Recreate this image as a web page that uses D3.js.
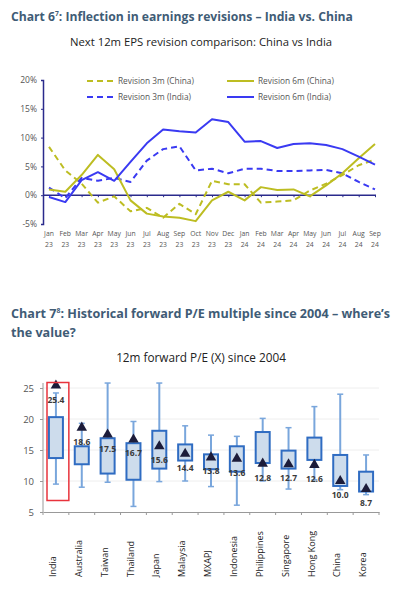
<!DOCTYPE html>
<html lang="en">
<head>
<meta charset="utf-8">
<title>Earnings revisions and forward P/E</title>
<script src="https://cdn.jsdelivr.net/npm/d3@7"></script>
<style>
  body { margin: 0; background: #fff; }
  svg text { font-family: "Open Sans", sans-serif; }
</style>
</head>
<body>
<script>
// chart 6 data: next 12m EPS revisions (%)
var months = ["Jan","Feb","Mar","Apr","May","Jun","Jul","Aug","Sep","Oct","Nov","Dec",
              "Jan","Feb","Mar","Apr","May","Jun","Jul","Aug","Sep"];
var years  = ["23","23","23","23","23","23","23","23","23","23","23","23",
              "24","24","24","24","24","24","24","24","24"];
var china3m = [8.4, 4.3, 2.0, -1.3, -0.2, -2.8, -2.2, -3.9, -1.5, -3.3, 2.5, 1.9, 1.9, -1.3, -1.1, -0.9, 0.8, 2.0, 3.5, 5.2, 6.2];
var india3m = [1.3, -0.5, 3.0, 2.5, 3.0, 2.3, 6.0, 8.0, 8.5, 4.3, 4.6, 3.8, 4.6, 4.6, 4.2, 4.2, 4.3, 4.4, 3.8, 2.3, 1.0];
var china6m = [1.0, 0.6, 3.5, 7.0, 4.5, -0.9, -3.2, -3.7, -3.9, -4.5, -0.9, 0.6, -0.9, 1.4, 0.9, 1.0, -0.2, 1.7, 3.8, 6.4, 8.9];
var india6m = [-0.3, -1.2, 2.6, 4.0, 2.5, 5.8, 9.0, 11.4, 11.1, 10.9, 13.2, 12.7, 9.3, 9.4, 8.2, 8.9, 9.0, 8.7, 8.0, 6.7, 5.3];
var revTicks = [-5, 0, 5, 10, 15, 20];

// chart 7 data: 12m forward P/E since 2004
var markets = ["India","Australia","Taiwan","Thailand","Japan","Malaysia","MXAPJ","Indonesia",
               "Philippines","Singapore","Hong Kong","China","Korea"];
var peMax   = [24.2, 19.3, 25.8, 19.6, 25.8, 18.9, 17.4, 17.2, 20.1, 18.6, 22.0, 24.0, 14.2];
var peQ3    = [20.3, 15.6, 16.9, 16.1, 18.1, 15.9, 14.3, 15.6, 17.9, 14.9, 17.0, 14.2, 11.5];
var peQ1    = [13.7, 12.7, 11.2, 10.2, 12.0, 13.3, 11.9, 11.5, 12.9, 12.0, 13.4, 9.2, 8.3];
var peMin   = [9.5, 9.0, 9.8, 5.9, 9.9, 10.0, 9.1, 6.1, 10.0, 8.7, 10.2, 8.6, 7.8];
var peNow   = [25.4, 18.6, 17.5, 16.7, 15.6, 14.4, 13.8, 13.6, 12.8, 12.7, 12.6, 10.0, 8.7];
var peTicks = [5, 10, 15, 20, 25];

var W = 399, H = 606;
var svg = d3.select("body").append("svg").attr("width", W).attr("height", H);

// squeeze/stretch font size so text spans a target width
function fitText(sel, target) {
  var fs = parseFloat(sel.attr("font-size"));
  var len = sel.node().getComputedTextLength();
  sel.attr("font-size", (fs * target / len).toFixed(2));
}

// ---------- titles ----------
var titleColor = "#3f5c76";
var t1 = svg.append("text").attr("x", 11).attr("y", 21).attr("font-size", 14)
  .attr("font-weight", "bold").attr("fill", titleColor);
t1.append("tspan").text("Chart 6");
t1.append("tspan").text("7").attr("font-size", "0.55em").attr("dy", -5);
t1.append("tspan").text(": Inflection in earnings revisions \u2013 India vs. China").attr("dy", 5);
fitText(t1, 342);

var s1 = svg.append("text").attr("x", 201).attr("y", 46).attr("font-size", 11)
  .attr("text-anchor", "middle").attr("fill", "#222")
  .text("Next 12m EPS revision comparison: China vs India");
fitText(s1, 262);

var t2 = svg.append("text").attr("x", 11).attr("y", 318).attr("font-size", 14)
  .attr("font-weight", "bold").attr("fill", titleColor);
t2.append("tspan").text("Chart 7");
t2.append("tspan").text("8").attr("font-size", "0.55em").attr("dy", -5);
t2.append("tspan").text(": Historical forward P/E multiple since 2004 \u2013 where\u2019s").attr("dy", 5);
fitText(t2, 379);
var t2fs = t2.attr("font-size");
svg.append("text").attr("x", 11).attr("y", 337).attr("font-size", t2fs)
  .attr("font-weight", "bold").attr("fill", titleColor).text("the value?");

var s2 = svg.append("text").attr("x", 201).attr("y", 362).attr("font-size", 11)
  .attr("text-anchor", "middle").attr("fill", "#222")
  .text("12m forward P/E (X) since 2004");
fitText(s2, 170);

// ---------- chart 6: line chart ----------
var navy = "#2a2a8c", olive = "#bdbd22", blue = "#3a3af2";
var x1 = d3.scalePoint().domain(d3.range(months.length)).range([49, 375]);
var y1 = d3.scaleLinear().domain([-5, 20]).range([224, 80]);

var yAx1 = svg.append("g").attr("transform", "translate(43,0)")
  .call(d3.axisLeft(y1).tickValues(revTicks).tickSize(2).tickFormat(function(d) { return d + "%"; }));
yAx1.select(".domain").attr("stroke", navy).attr("stroke-width", 1.5);
yAx1.selectAll(".tick line").attr("stroke", navy);
yAx1.selectAll(".tick text").attr("font-size", 8.5).attr("fill", "#555")
  .attr("font-family", "DejaVu Sans, sans-serif").attr("x", -6);

// zero line with small ticks
var zeroAx = svg.append("g").attr("transform", "translate(0," + y1(0) + ")")
  .call(d3.axisBottom(x1).tickSize(2).tickSizeOuter(0).tickFormat(""));
zeroAx.select(".domain").attr("stroke", navy).attr("stroke-width", 1.5)
  .attr("d", "M43,0H" + (x1(20) + 1));
zeroAx.selectAll(".tick line").attr("stroke", navy);

// month / year labels
var lab = svg.append("g").selectAll("text").data(months).enter().append("text")
  .attr("text-anchor", "middle").attr("font-size", 6.8).attr("fill", "#555")
  .attr("font-family", "DejaVu Sans, sans-serif");
lab.append("tspan").attr("x", function(d, i) { return x1(i); }).attr("y", 236).text(function(d) { return d; });
lab.append("tspan").attr("x", function(d, i) { return x1(i); }).attr("y", 247).text(function(d, i) { return years[i]; });

var line1 = d3.line().x(function(d, i) { return x1(i); }).y(function(d) { return y1(d); });
var series = [
  { v: china3m, c: olive, dash: "6,4" },
  { v: india3m, c: blue,  dash: "6,4" },
  { v: china6m, c: olive, dash: null },
  { v: india6m, c: blue,  dash: null }
];
svg.append("g").selectAll("path").data(series).enter().append("path")
  .attr("d", function(d) { return line1(d.v); })
  .attr("fill", "none").attr("stroke", function(d) { return d.c; })
  .attr("stroke-width", 2).attr("stroke-linejoin", "round")
  .attr("stroke-dasharray", function(d) { return d.dash; });

// legend
var legend = [
  { name: "Revision 3m (China)", c: olive, dash: "6,4", x: 87,  y: 81 },
  { name: "Revision 3m (India)", c: blue,  dash: "6,4", x: 87,  y: 97 },
  { name: "Revision 6m (China)", c: olive, dash: null,  x: 227, y: 81 },
  { name: "Revision 6m (India)", c: blue,  dash: null,  x: 227, y: 97 }
];
var lg = svg.append("g").selectAll("g").data(legend).enter().append("g")
  .attr("transform", function(d) { return "translate(" + d.x + "," + d.y + ")"; });
lg.append("line").attr("x1", 0).attr("x2", 27).attr("y1", 0).attr("y2", 0)
  .attr("stroke", function(d) { return d.c; }).attr("stroke-width", 2)
  .attr("stroke-dasharray", function(d) { return d.dash; });
lg.append("text").attr("x", 31).attr("y", 3).attr("font-size", 8.3).attr("fill", "#555")
  .text(function(d) { return d.name; });

// ---------- chart 7: box chart ----------
var x2 = d3.scaleBand().domain(markets).range([43, 379]);
var y2 = d3.scaleLinear().domain([5, 25]).range([512, 388]);

// faint gridlines
svg.append("g").selectAll("line").data(peTicks.slice(1)).enter().append("line")
  .attr("x1", 43).attr("x2", 379)
  .attr("y1", function(d) { return y2(d); }).attr("y2", function(d) { return y2(d); })
  .attr("stroke", "#eeeeee").attr("stroke-width", 1);

var yAx2 = svg.append("g").attr("transform", "translate(43,0)")
  .call(d3.axisLeft(y2).tickValues(peTicks).tickSize(3).tickSizeOuter(0));
yAx2.select(".domain").attr("stroke", "#999").attr("d", "M0,383V512");
yAx2.selectAll(".tick line").attr("stroke", "#999");
yAx2.selectAll(".tick text").attr("font-size", 9.5).attr("fill", "#555").attr("x", -9);

var xAx2 = svg.append("g").attr("transform", "translate(0,512)")
  .call(d3.axisBottom(x2).tickSize(0).tickSizeOuter(0).tickFormat(""));
xAx2.select(".domain").attr("stroke", "#999").attr("stroke-width", 1.2);
// ticks at band edges
svg.append("g").selectAll("line").data(d3.range(markets.length + 1)).enter().append("line")
  .attr("x1", function(i) { return 43 + i * x2.step(); })
  .attr("x2", function(i) { return 43 + i * x2.step(); })
  .attr("y1", 512).attr("y2", 515).attr("stroke", "#999");

// market names rotated
svg.append("g").selectAll("text").data(markets).enter().append("text")
  .attr("transform", function(d) { return "translate(" + (x2(d) + x2.bandwidth() / 2 - 3) + ",577) rotate(-90)"; })
  .attr("dy", "0.35em").attr("font-size", 9).attr("fill", "#222")
  .text(function(d) { return d; });

var bw = 14;
var box = svg.append("g").selectAll("g").data(markets).enter().append("g")
  .attr("transform", function(d) { return "translate(" + (x2(d) + x2.bandwidth() / 2) + ",0)"; });

box.append("line").attr("x1", 0).attr("x2", 0)
  .attr("y1", function(d, i) { return y2(peMax[i]); })
  .attr("y2", function(d, i) { return y2(peMin[i]); })
  .attr("stroke", "#79a6dc").attr("stroke-width", 2);
box.append("line").attr("x1", -3).attr("x2", 3)
  .attr("y1", function(d, i) { return y2(peMax[i]); })
  .attr("y2", function(d, i) { return y2(peMax[i]); })
  .attr("stroke", "#79a6dc").attr("stroke-width", 1.5);
box.append("line").attr("x1", -3).attr("x2", 3)
  .attr("y1", function(d, i) { return y2(peMin[i]); })
  .attr("y2", function(d, i) { return y2(peMin[i]); })
  .attr("stroke", "#79a6dc").attr("stroke-width", 1.5);
box.append("rect").attr("x", -bw / 2).attr("width", bw)
  .attr("y", function(d, i) { return y2(peQ3[i]); })
  .attr("height", function(d, i) { return y2(peQ1[i]) - y2(peQ3[i]); })
  .attr("fill", "#cddcec").attr("stroke", "#2f6cc2").attr("stroke-width", 2);
box.append("path")
  .attr("d", d3.symbol().type(d3.symbolTriangle).size(48))
  .attr("transform", function(d, i) { return "translate(0," + y2(peNow[i]) + ")"; })
  .attr("fill", "#1c1c3a");
box.append("text").attr("text-anchor", "middle")
  .attr("y", function(d, i) { return y2(peNow[i]) + 17; })
  .attr("font-size", 8.5).attr("font-weight", "bold").attr("fill", "#3a3a3a")
  .text(function(d, i) { return peNow[i].toFixed(1); });

// red highlight around India
svg.append("rect").attr("x", x2("India") + 4).attr("y", 382.5)
  .attr("width", x2.bandwidth() - 4).attr("height", 118)
  .attr("fill", "none").attr("stroke", "#e8333c").attr("stroke-width", 1.5);
</script>
</body>
</html>
